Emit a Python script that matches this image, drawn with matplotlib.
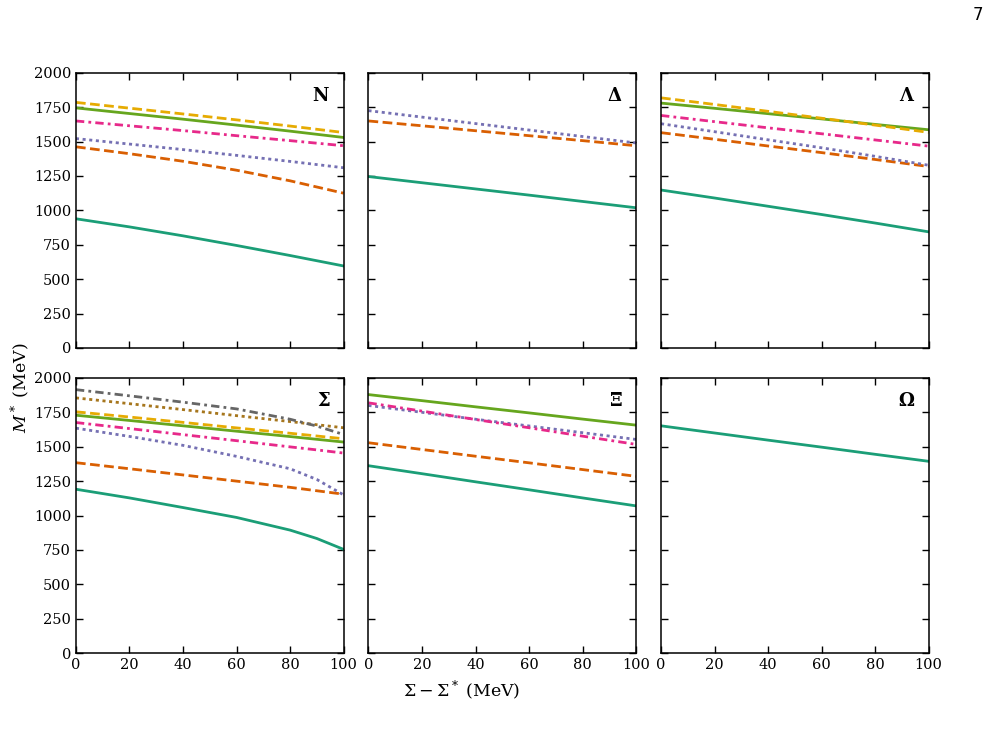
import matplotlib
matplotlib.use("Agg")
import matplotlib.pyplot as plt

plt.rcParams['font.family'] = 'DejaVu Serif'
plt.rcParams['mathtext.fontset'] = 'dejavuserif'

# x axis: Sigma - Sigma* (MeV)
x = [0, 20, 40, 60, 80, 100]
x_sig = [0, 20, 40, 60, 80, 90, 100]

# N
n_teal = [939, 880, 815, 745, 672, 596]
n_orange = [1462, 1412, 1357, 1292, 1215, 1125]
n_purple = [1522, 1482, 1442, 1400, 1356, 1310]
n_pink = [1650, 1615, 1580, 1543, 1507, 1470]
n_green = [1745, 1704, 1663, 1620, 1576, 1530]
n_yellow = [1785, 1743, 1701, 1658, 1613, 1566]

# Delta
d_teal = [1246, 1201, 1156, 1111, 1065, 1019]
d_orange = [1650, 1615, 1579, 1543, 1507, 1470]
d_purple = [1725, 1678, 1631, 1584, 1537, 1490]

# Lambda
l_teal = [1148, 1090, 1030, 970, 908, 844]
l_orange = [1565, 1517, 1468, 1420, 1370, 1319]
l_purple = [1630, 1572, 1513, 1455, 1393, 1328]
l_pink = [1690, 1645, 1600, 1557, 1512, 1467]
l_green = [1780, 1742, 1703, 1665, 1625, 1586]
l_yellow = [1818, 1770, 1720, 1670, 1620, 1567]

# Sigma
s_teal = [1191, 1128, 1058, 986, 894, 833, 754]
s_orange = [1384, 1340, 1295, 1250, 1205, 1180, 1155]
s_purple = [1635, 1575, 1510, 1430, 1340, 1262, 1150]
s_pink = [1676, 1632, 1588, 1544, 1499, 1477, 1454]
s_green = [1729, 1691, 1652, 1613, 1574, 1554, 1534]
s_yellow = [1754, 1716, 1677, 1637, 1598, 1578, 1558]
s_brown = [1855, 1813, 1770, 1726, 1683, 1660, 1638]
s_gray = [1915, 1870, 1824, 1775, 1700, 1650, 1589]

# Xi
x_teal = [1362, 1304, 1245, 1187, 1128, 1070]
x_orange = [1529, 1480, 1431, 1383, 1334, 1285]
x_purple = [1800, 1750, 1700, 1651, 1602, 1553]
x_pink = [1819, 1759, 1698, 1638, 1577, 1517]
x_green = [1879, 1835, 1790, 1746, 1701, 1657]

# Omega
o_teal = [1652, 1600, 1548, 1497, 1445, 1394]

# Dark2 colours + line styles, in curve order
colors = ['#1b9e77', '#d95f02', '#7570b3', '#e7298a', '#66a61e', '#e6ab02', '#a6761d', '#666666']
dash = (0, (3.5, 1.6))
dot = (0, (1.1, 1.3))
dashdot = (0, (3.0, 1.5, 1.0, 1.5))
styles = ['-', dash, dot, dashdot, '-', dash, dot, dashdot]

panels = [
    (r'$\mathbf{N}$', x, [n_teal, n_orange, n_purple, n_pink, n_green, n_yellow]),
    (r'$\mathbf{\Delta}$', x, [d_teal, d_orange, d_purple]),
    (r'$\mathbf{\Lambda}$', x, [l_teal, l_orange, l_purple, l_pink, l_green, l_yellow]),
    (r'$\mathbf{\Sigma}$', x_sig, [s_teal, s_orange, s_purple, s_pink, s_green, s_yellow, s_brown, s_gray]),
    (r'$\mathbf{\Xi}$', x, [x_teal, x_orange, x_purple, x_pink, x_green]),
    (r'$\mathbf{\Omega}$', x, [o_teal]),
]

fig, axes = plt.subplots(2, 3, figsize=(9.89, 7.43), dpi=100, sharex=True, sharey=True)
fig.subplots_adjust(left=0.0768, right=0.939, top=0.902, bottom=0.121, wspace=0.093, hspace=0.109)

for ax, (name, xs, curves) in zip(axes.flat, panels):
    for i, y in enumerate(curves):
        ax.plot(xs, y, color=colors[i], linestyle=styles[i], linewidth=2.0)
    ax.text(0.95, 0.95, name, transform=ax.transAxes, ha='right', va='top', fontsize=13)
    ax.set_xlim(0, 100)
    ax.set_ylim(0, 2000)
    ax.set_xticks([0, 20, 40, 60, 80, 100])
    ax.set_yticks(range(0, 2001, 250))
    ax.tick_params(direction='in', top=True, right=True, length=5, width=1.0, labelsize=10.5)
    for sp in ax.spines.values():
        sp.set_linewidth(1.1)

fig.text(20 / 989, 1 - 388 / 743, r'$M^*$ (MeV)', rotation=90, ha='center', va='center', fontsize=12.5)
fig.text(462 / 989, 1 - 690 / 743, r'$\Sigma - \Sigma^*$ (MeV)', ha='center', va='center', fontsize=12.5)
fig.text(978 / 989, 1 - 15 / 743, '7', ha='center', va='center', fontsize=12, family='DejaVu Sans')

fig.savefig('out.png', dpi=100)
